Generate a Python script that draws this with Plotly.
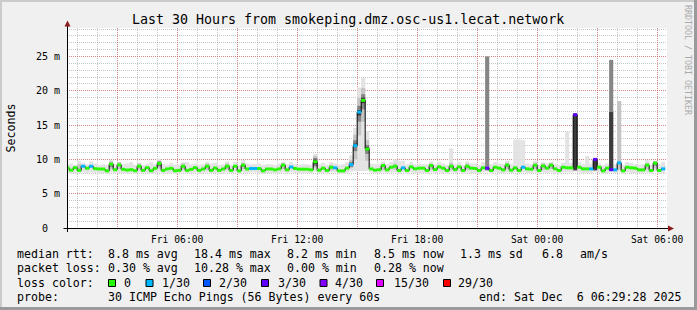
import plotly.graph_objects as go
import pandas as pd

# ---------------- data ----------------
interval_minutes = 12
first_interval_start = "2025-12-05 00:24:00"
range_start = "2025-12-05 00:29:28"
range_end = "2025-12-06 06:29:28"

median_ms = [
    8.77, 8.43, 8.80, 8.40, 9.00, 8.70, 9.00, 8.65, 8.60, 8.60,
    8.33, 9.30, 8.50, 9.20, 8.55, 8.45, 8.50, 8.35, 9.00, 8.40,
    8.80, 8.35, 8.70, 9.40, 8.40, 8.60, 8.70, 8.35, 8.40, 9.00,
    8.40, 8.55, 8.80, 8.40, 8.60, 9.00, 8.40, 8.75, 8.40, 8.60,
    9.00, 8.40, 9.00, 8.33, 9.15, 8.60, 8.67, 8.67, 8.67, 8.33,
    8.60, 8.60, 8.48, 8.62, 9.15, 8.48, 8.90, 8.67, 8.57, 8.57,
    8.57, 8.48, 9.65, 8.43, 8.72, 8.38, 8.86, 8.77, 8.33, 8.33,
    8.72, 9.25, 12.00, 16.90, 18.60, 11.50, 8.62, 8.43, 8.50, 9.10,
    8.48, 8.86, 9.00, 8.38, 8.77, 8.38, 8.91, 8.62, 8.72, 8.72,
    8.38, 9.10, 8.52, 8.91, 8.72, 8.38, 9.00, 8.52, 8.91, 8.38,
    9.00, 8.72, 8.67, 8.38, 8.77, 8.72, 8.38, 8.86, 8.72, 8.48,
    9.15, 8.43, 8.77, 8.38, 8.86, 8.62, 8.57, 9.15, 8.38, 9.05,
    8.72, 9.15, 8.62, 8.38, 8.86, 8.77, 8.77, 16.50, 8.86, 8.62,
    8.62, 8.62, 10.00, 8.86, 8.33, 8.72, 8.50, 8.48, 9.50, 8.33,
    8.86, 8.77, 8.72, 8.48, 8.48, 9.15, 8.38, 9.45, 8.38, 8.62,
]

loss_pings = [
    0, 0, 0, 0, 1, 0, 1, 0, 0, 0,
    0, 0, 0, 0, 0, 0, 0, 0, 0, 0,
    0, 0, 0, 0, 0, 0, 0, 0, 0, 0,
    0, 0, 0, 0, 0, 0, 0, 0, 0, 0,
    0, 0, 0, 0, 0, 0, 1, 1, 0, 0,
    0, 0, 0, 0, 0, 0, 1, 0, 0, 0,
    0, 0, 0, 0, 0, 0, 0, 1, 0, 0,
    0, 1, 1, 1, 0, 0, 0, 0, 0, 0,
    0, 0, 0, 0, 1, 0, 0, 0, 0, 0,
    0, 0, 0, 0, 0, 0, 0, 0, 0, 0,
    0, 0, 0, 0, 0, 3, 0, 0, 0, 0,
    0, 0, 0, 0, 1, 0, 0, 0, 0, 0,
    0, 0, 0, 0, 0, 0, 0, 3, 0, 0,
    0, 1, 3, 0, 0, 0, 3, 1, 1, 0,
    0, 0, 0, 0, 0, 0, 0, 0, 0, 1,
]

smoke_min_ms = [
    8.0, 7.9, 8.0, 8.0, 8.1, 8.0, 8.1, 8.0, 7.9, 8.0,
    7.9, 8.1, 8.0, 8.0, 8.0, 7.9, 8.0, 7.9, 8.1, 8.0,
    8.0, 7.9, 8.0, 8.1, 7.9, 8.0, 8.0, 7.9, 8.0, 8.1,
    8.0, 8.0, 8.1, 7.9, 8.0, 8.1, 8.0, 8.0, 7.9, 8.0,
    8.1, 8.0, 8.1, 7.9, 8.1, 8.0, 8.1, 8.1, 8.0, 7.9,
    8.0, 8.0, 8.0, 8.0, 8.1, 8.0, 8.1, 8.0, 8.0, 8.0,
    8.0, 8.0, 8.2, 8.0, 8.0, 7.9, 8.1, 8.1, 7.9, 7.9,
    8.0, 8.2, 8.3, 8.3, 8.3, 8.3, 8.1, 8.0, 8.0, 8.1,
    8.0, 8.1, 8.1, 7.9, 8.1, 7.9, 8.1, 8.0, 8.0, 8.0,
    7.9, 8.1, 8.0, 8.1, 8.0, 7.9, 8.1, 8.0, 8.1, 7.9,
    8.1, 8.0, 8.0, 7.9, 8.1, 8.2, 7.9, 8.1, 8.0, 8.0,
    8.1, 8.0, 8.1, 8.0, 8.1, 8.0, 8.0, 8.1, 7.9, 8.1,
    8.0, 8.1, 8.0, 7.9, 8.1, 8.1, 8.1, 8.2, 8.1, 8.0,
    8.0, 8.0, 8.2, 8.1, 7.9, 8.0, 8.1, 8.0, 8.2, 7.9,
    8.1, 8.0, 8.0, 8.0, 8.0, 8.1, 7.9, 8.2, 7.9, 8.0,
]

smoke_max_ms = [
    9.3, 9.4, 9.2, 9.8, 9.5, 9.3, 9.7, 9.4, 9.2, 9.3,
    9.2, 9.9, 9.3, 9.6, 9.3, 9.4, 9.6, 9.2, 9.5, 9.2,
    9.4, 9.6, 9.3, 10.1, 9.3, 9.2, 9.5, 9.2, 9.3, 9.6,
    9.6, 9.3, 9.4, 9.2, 9.3, 9.6, 9.4, 9.5, 9.2, 9.3,
    9.7, 9.2, 9.6, 9.2, 9.9, 9.4, 9.3, 9.3, 9.4, 9.2,
    9.3, 9.3, 9.2, 9.4, 9.6, 9.3, 9.6, 9.3, 9.2, 9.3,
    9.3, 9.2, 10.8, 9.3, 9.5, 9.2, 9.6, 9.4, 9.2, 9.3,
    9.6, 10.6, 14.6, 20.5, 21.9, 14.1, 9.4, 9.3, 9.3, 9.7,
    9.3, 9.6, 10.0, 9.8, 9.8, 9.3, 9.6, 9.3, 9.4, 9.3,
    9.3, 9.7, 9.3, 9.6, 9.4, 9.2, 11.6, 9.3, 9.6, 9.2,
    9.7, 9.4, 9.4, 9.2, 9.6, 25.0, 9.3, 9.6, 9.4, 9.3,
    9.8, 9.3, 12.9, 12.9, 12.8, 9.4, 9.3, 9.8, 9.2, 9.6,
    9.4, 9.6, 9.3, 9.2, 9.5, 14.0, 9.5, 16.7, 9.6, 9.3,
    10.5, 9.4, 10.0, 9.5, 9.2, 9.4, 24.5, 9.3, 18.5, 9.2,
    9.6, 9.5, 9.3, 9.2, 9.3, 9.9, 9.2, 9.8, 9.3, 9.6,
]

# inner smoke bands: interval index -> (low ms, high ms)
smoke_band_light = {
    3: (8.3, 9.3), 11: (8.6, 9.7), 13: (8.6, 9.6), 18: (8.5, 9.4), 23: (8.7, 9.8),
    29: (8.5, 9.4), 35: (8.5, 9.4), 40: (8.5, 9.4), 44: (8.6, 9.5), 54: (8.6, 9.5),
    62: (8.8, 10.5), 66: (8.4, 9.2), 71: (8.7, 9.9), 72: (10.0, 13.6), 73: (13.5, 19.0),
    74: (15.5, 20.4), 75: (9.8, 12.8), 79: (8.5, 9.4), 82: (8.5, 9.4), 91: (8.5, 9.4),
    96: (8.5, 9.5), 100: (8.5, 9.4), 110: (8.6, 9.5), 117: (8.6, 9.5), 119: (8.5, 9.4),
    121: (8.6, 9.5), 138: (8.5, 18.5), 145: (8.6, 9.5), 147: (8.7, 9.7),
}
smoke_band_mid = {
    11: (8.9, 9.5), 23: (9.0, 9.7), 44: (8.9, 9.35), 62: (9.0, 10.2), 71: (8.9, 9.6),
    72: (11.2, 12.8), 73: (15.5, 17.8), 74: (17.3, 19.5), 75: (10.8, 12.1),
    105: (8.4, 25.0), 110: (8.9, 9.35), 136: (8.4, 24.5), 147: (9.1, 9.65),
}
smoke_band_dark = {
    62: (9.3, 9.95), 72: (11.8, 12.3), 73: (16.4, 17.2), 74: (18.2, 19.0),
    75: (11.3, 11.8), 127: (8.4, 16.7), 132: (8.4, 10.0), 136: (8.4, 16.9),
}

loss_levels = [0, 1, 2, 3, 4, 15, 29]
loss_labels = ["0", "1/30", "2/30", "3/30", "4/30", "15/30", "29/30"]
loss_colors = ["#26ff00", "#00b8ff", "#0059ff", "#5e00ff", "#7e00ff", "#dd00ff", "#ff0000"]

y_tick_values = [0, 5, 10, 15, 20, 25]
y_tick_labels = ["0\u00a0\u00a0", "5 m", "10 m", "15 m", "20 m", "25 m"]
x_tick_values = ["2025-12-05 03:00", "2025-12-05 06:00", "2025-12-05 09:00", "2025-12-05 12:00",
                 "2025-12-05 15:00", "2025-12-05 18:00", "2025-12-05 21:00", "2025-12-06 00:00",
                 "2025-12-06 03:00", "2025-12-06 06:00"]
x_tick_labels = ["", "Fri 06:00", "", "Fri 12:00", "", "Fri 18:00", "", "Sat 00:00", "", "Sat 06:00"]

legend_rows = [
    [("median rtt:", 16), ("8.8 ms avg", 106.5), ("18.4 ms max", 193), ("8.2 ms min", 286),
     ("8.5 ms now", 372.5), ("1.3 ms sd", 459), ("6.8", 540.5), ("am/s", 579)],
    [("packet loss:", 16), ("0.30 % avg", 106.5), ("10.28 % max", 193), ("0.00 % min", 286),
     ("0.28 % now", 372.5)],
    [("loss color:", 16)],
    [("probe:", 16), ("30 ICMP Echo Pings (56 Bytes) every 60s", 106.5),
     ("end: Sat Dec  6 06:29:28 2025", 478)],
]
loss_box_x = [108.5, 146, 203.5, 261.5, 320, 376.5, 443.5]
loss_label_x = [123, 160.5, 218, 276.5, 334, 392.5, 457]

# ---------------- geometry helpers ----------------
W, H = 697, 310
L, R, T, B = 67, 30, 28, 82
PW, PH = W - L - R, H - T - B
Y_TOP = 29.15


def px(x):
    return (x - L) / PW


def py(y):
    return (H - B - y) / PH


MONO = "DejaVu Sans Mono"
n = len(median_ms)
step = pd.Timedelta(minutes=interval_minutes)
starts = [pd.Timestamp(first_interval_start) + i * step for i in range(n)]
centers = [s + step / 2 for s in starts]
width_ms = step.total_seconds() * 1000 * 1.01

fig = go.Figure()

# smoke: outer band
fig.add_trace(go.Bar(x=centers, base=smoke_min_ms,
                     y=[hi - lo for lo, hi in zip(smoke_min_ms, smoke_max_ms)],
                     width=width_ms, marker=dict(color="#e3e3e3", line=dict(width=0)),
                     hoverinfo="skip"))
for band, col in [(smoke_band_light, "#c4c4c4"), (smoke_band_mid, "#858585"),
                  (smoke_band_dark, "#3c3c3c")]:
    idx = sorted(band)
    fig.add_trace(go.Bar(x=[centers[i] for i in idx], base=[band[i][0] for i in idx],
                         y=[band[i][1] - band[i][0] for i in idx], width=width_ms,
                         marker=dict(color=col, line=dict(width=0)), hoverinfo="skip"))

# black median step line
fig.add_trace(go.Scatter(x=starts + [starts[-1] + step], y=median_ms + [median_ms[-1]],
                         mode="lines", line=dict(color="#000000", width=1, shape="hv"),
                         hoverinfo="skip"))

# coloured median segments by loss (drawn on top of the black line)
level_of = []
for lp in loss_pings:
    lv = 0
    for j, t in enumerate(loss_levels):
        if lp >= t:
            lv = j
    level_of.append(lv)
for j, col in enumerate(loss_colors):
    idx = [i for i in range(n) if level_of[i] == j]
    if not idx:
        continue
    xs, ys = [], []
    for i in idx:
        xs += [starts[i], starts[i] + step, None]
        ys += [median_ms[i], median_ms[i], None]
    fig.add_trace(go.Scatter(x=xs, y=ys, mode="lines", connectgaps=False,
                             line=dict(color=col, width=3), hoverinfo="skip"))

grid_gray = "rgba(143,143,143,0.5)"
grid_red = "rgba(222,79,79,0.55)"

fig.update_layout(
    width=W, height=H,
    margin=dict(l=L, r=R, t=T, b=B, pad=0),
    paper_bgcolor="#f0f0f0", plot_bgcolor="#ffffff",
    barmode="overlay", showlegend=False,
    font=dict(family=MONO, size=10, color="#000000"),
)
fig.update_xaxes(
    type="date", range=[range_start, range_end],
    tickmode="array", tickvals=x_tick_values, ticktext=x_tick_labels,
    tickfont=dict(family=MONO, size=9.7, color="#000000"),
    showgrid=True, gridcolor=grid_red, griddash="1px,1px", gridwidth=1,
    minor=dict(tickmode="linear", tick0="2025-12-05 00:00", dtick=3600000,
               showgrid=True, gridcolor=grid_gray, griddash="1px,1px", gridwidth=1),
    showline=False, zeroline=False, ticks="", ticklabelstandoff=4,
)
fig.update_yaxes(
    range=[0, Y_TOP], tickmode="array", tickvals=y_tick_values, ticktext=y_tick_labels,
    tickfont=dict(family=MONO, size=10, color="#000000"),
    showgrid=True, gridcolor=grid_red, griddash="1px,1px", gridwidth=1,
    minor=dict(tickmode="linear", tick0=0, dtick=1, showgrid=True,
               gridcolor=grid_gray, griddash="1px,1px", gridwidth=1),
    showline=False, zeroline=False, ticks="", ticklabelstandoff=6,
)

shapes = []
# canvas frame
for (x0, y0, x1, y1, c) in [(0, 0, 697, 2, "#cbcbcb"), (0, 0, 2, 310, "#cbcbcb"),
                            (0, 307, 697, 310, "#9a9a9a"), (694, 0, 697, 310, "#9a9a9a")]:
    shapes.append(dict(type="rect", xref="paper", yref="paper", x0=px(x0), x1=px(x1),
                       y0=py(y0), y1=py(y1), line=dict(width=0), fillcolor=c, layer="above"))
# axes
shapes.append(dict(type="line", xref="paper", yref="paper", x0=px(63.5), x1=px(670),
                   y0=py(228.5), y1=py(228.5), line=dict(color="#000000", width=1), layer="above"))
shapes.append(dict(type="line", xref="paper", yref="paper", x0=px(67.5), x1=px(67.5),
                   y0=py(232), y1=py(24), line=dict(color="#000000", width=1), layer="above"))
arrow_col = "#8b1c1c"
shapes.append(dict(type="path", xref="paper", yref="paper",
                   path=f"M {px(64.5)},{py(26.5)} L {px(67.5)},{py(20.5)} L {px(70.5)},{py(26.5)} Z",
                   fillcolor=arrow_col, line=dict(width=0), layer="above"))
shapes.append(dict(type="path", xref="paper", yref="paper",
                   path=f"M {px(668)},{py(225.5)} L {px(674)},{py(228.5)} L {px(668)},{py(231.5)} Z",
                   fillcolor=arrow_col, line=dict(width=0), layer="above"))
# legend colour boxes
for bx, col in zip(loss_box_x, loss_colors):
    shapes.append(dict(type="rect", xref="paper", yref="paper", x0=px(bx), x1=px(bx + 7),
                       y0=py(279.5), y1=py(286.5), fillcolor=col,
                       line=dict(color="#000000", width=1), layer="above"))
fig.update_layout(shapes=shapes)

ann = []
ann.append(dict(text="Last 30 Hours from smokeping.dmz.osc-us1.lecat.network",
                x=px(348), y=py(19), xref="paper", yref="paper", showarrow=False,
                xanchor="center", yanchor="middle", font=dict(family=MONO, size=13.3, color="#000000")))
ann.append(dict(text="Seconds", x=px(10.5), y=py(128), xref="paper", yref="paper",
                showarrow=False, textangle=-90, xanchor="center", yanchor="middle",
                font=dict(family=MONO, size=11.6, color="#000000")))
ann.append(dict(text="RRDTOOL / TOBI OETIKER", x=px(688), y=py(60), xref="paper", yref="paper",
                showarrow=False, textangle=90, xanchor="center", yanchor="middle",
                font=dict(family=MONO, size=8.3, color="#aaaaaa")))
row_y = [254.3, 268.3, 282.7, 296.7]
for row, ry in zip(legend_rows, row_y):
    for text, tx in row:
        ann.append(dict(text=text, x=px(tx), y=py(ry), xref="paper", yref="paper",
                        showarrow=False, xanchor="left", yanchor="middle", borderpad=0,
                        font=dict(family=MONO, size=11.6, color="#000000")))
for text, tx in zip(loss_labels, loss_label_x):
    ann.append(dict(text=text, x=px(tx), y=py(row_y[2]), xref="paper", yref="paper",
                    showarrow=False, xanchor="left", yanchor="middle", borderpad=0,
                    font=dict(family=MONO, size=11.6, color="#000000")))
fig.update_layout(annotations=ann)

fig.write_html("out.html")
